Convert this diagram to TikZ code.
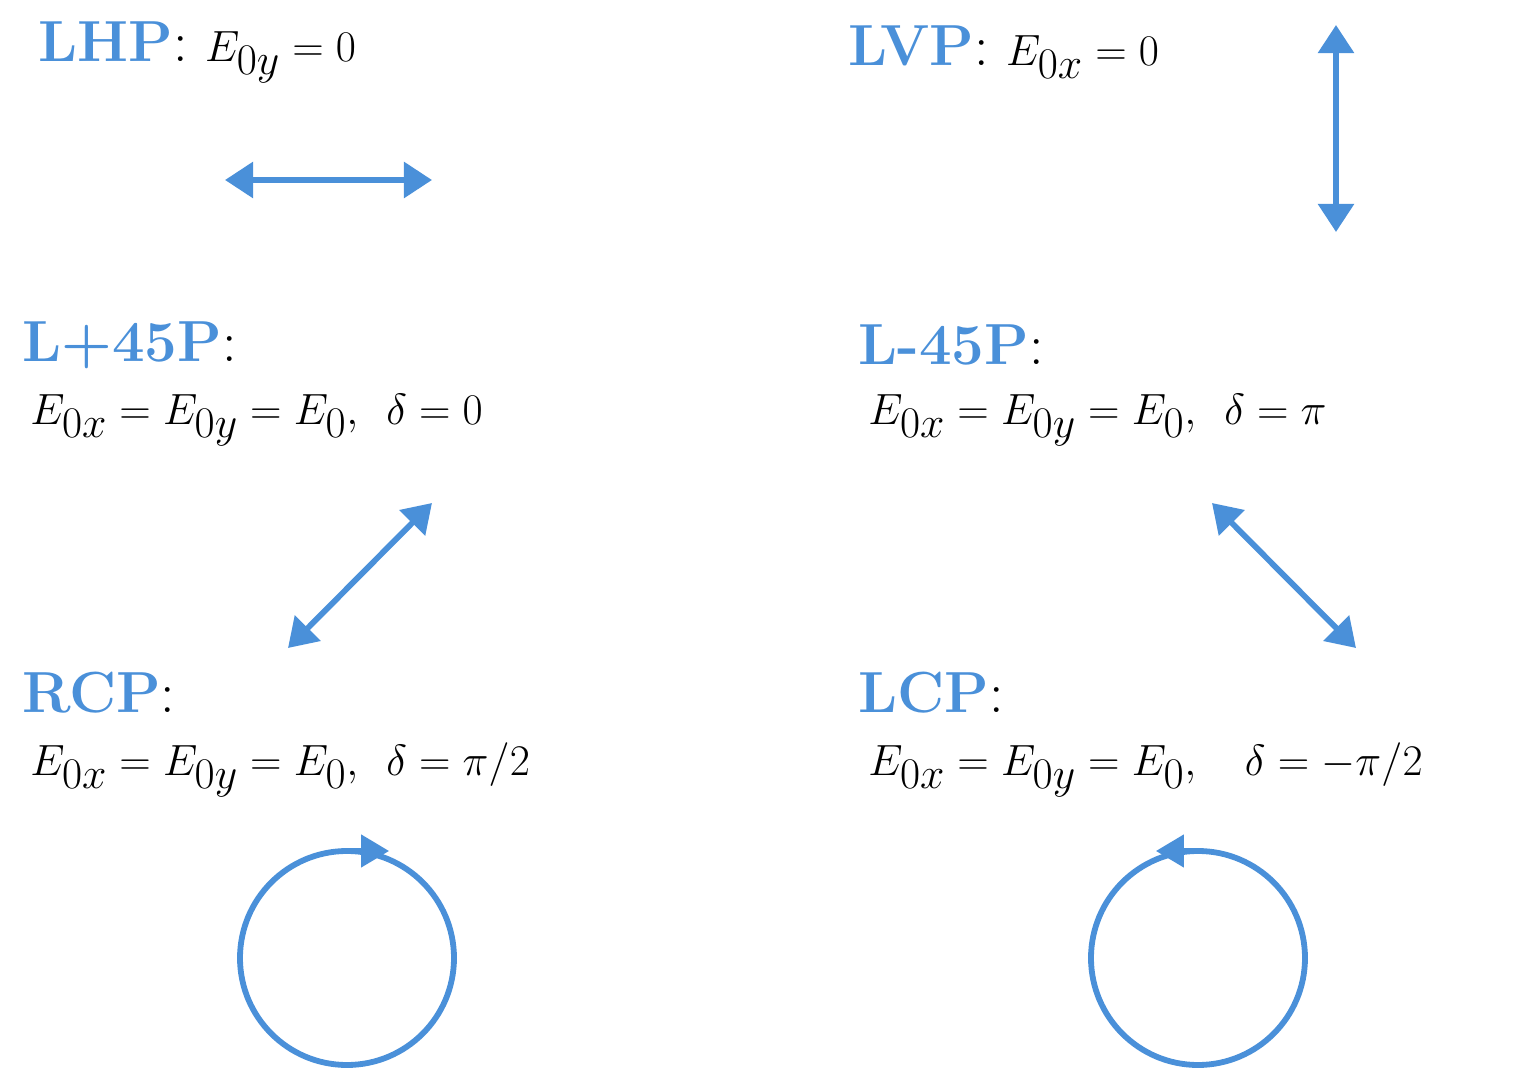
\documentclass[tikz,border=0pt]{standalone}
\usetikzlibrary{arrows.meta}
\definecolor{pb}{RGB}{74,144,217}
\begin{document}
\begin{tikzpicture}[x=0.02cm,y=-0.02cm,
  lab/.style={anchor=west,inner sep=0pt,font=\fontsize{33}{38}\selectfont},
  eq/.style={anchor=west,inner sep=0pt,font=\fontsize{39}{44}\selectfont},
  arr/.style={pb,line width=3.3pt,{Triangle[length=16pt,width=20pt]}-{Triangle[length=16pt,width=20pt]}},
  circ/.style={pb,line width=3.3pt}]
\useasboundingbox (0,0) rectangle (1529,1087);
\node[lab] (lhp) at (38,52) {\textbf{\color{pb}LHP}: \fontsize{39}{44}\selectfont$E_{0y}=0$};
\node[lab] (lvp) at (848,52) {\textbf{\color{pb}LVP}: \fontsize{39}{44}\selectfont$E_{0x}=0$};
\coordinate (h1) at (225,180); \coordinate (h2) at (432,180);
\draw[arr] (h1) -- (h2);
\coordinate (v1) at (1336,25); \coordinate (v2) at (1336,232);
\draw[arr] (v1) -- (v2);
\node[lab] (lp) at (22,345) {\textbf{\color{pb}L+45P}:};
\node[eq] (lpe) at (30,420) {$E_{0x}=E_{0y}=E_0,\ \delta=0$};
\node[lab] (lm) at (858,345) {\textbf{\color{pb}L-45P}:};
\node[eq] (lme) at (868,420) {$E_{0x}=E_{0y}=E_0,\ \delta=\pi$};
\coordinate (d1) at (288,648); \coordinate (d2) at (432,503);
\draw[arr] (d1) -- (d2);
\coordinate (d3) at (1212,503); \coordinate (d4) at (1356,648);
\draw[arr] (d3) -- (d4);
\node[lab] (rcp) at (22,693) {\textbf{\color{pb}RCP}:};
\node[eq] (rcpe) at (30,770) {$E_{0x}=E_{0y}=E_0,\ \delta=\pi/2$};
\node[lab] (lcp) at (858,693) {\textbf{\color{pb}LCP}:};
\node[eq] (lcpe) at (868,770) {$E_{0x}=E_{0y}=E_0,\ \ \delta=-\pi/2$};
\coordinate (c1) at (347,958); \coordinate (c2) at (1198,958);
\draw[circ] (c1) circle[radius=107];
\draw[circ] (c2) circle[radius=107];
\coordinate (t1) at (347,851); \coordinate (t2) at (1198,851);
\draw[circ,-{Triangle[length=16pt,width=18pt]}] ([xshift=-2]t1) -- ([xshift=24]t1);
\draw[circ,-{Triangle[length=16pt,width=18pt]}] ([xshift=2]t2) -- ([xshift=-24]t2);
\end{tikzpicture}
\end{document}
